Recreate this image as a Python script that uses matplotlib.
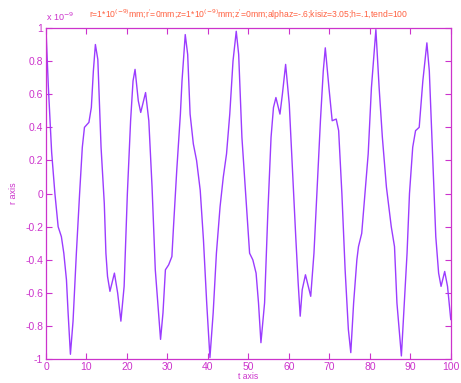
import matplotlib
matplotlib.use("Agg")
import matplotlib.pyplot as plt

plt.rcParams['font.family'] = ['Liberation Sans', 'DejaVu Sans']

t = [0.0, 0.57, 1.39, 2.2, 3.0, 3.8, 4.4, 5.05, 5.46, 6.03, 6.68, 7.5, 8.3, 8.97, 9.5, 10.6,
     11.2, 11.7, 12.2, 12.8, 13.6, 14.4, 14.8, 15.2, 15.8, 16.9, 17.7, 18.5, 19.3, 20.1,
     20.9, 21.5, 22.0, 22.8, 23.4, 24.6, 25.4, 26.2, 27.0, 28.3, 28.9, 29.5, 30.3, 31.1,
     31.5, 32.3, 33.2, 33.6, 34.4, 35.0, 35.6, 36.4, 37.2, 38.1, 38.9, 39.7, 40.5, 41.3,
     42.1, 43.0, 43.8, 44.6, 45.4, 46.2, 47.0, 47.6, 48.4, 49.5, 50.3, 51.1, 51.9, 52.5,
     53.1, 54.0, 54.8, 55.6, 56.2, 56.8, 57.8, 58.4, 59.2, 60.1, 60.9, 61.7, 62.3, 62.8,
     63.3, 64.1, 65.4, 66.2, 67.0, 67.8, 68.5, 69.0, 69.9, 70.7, 71.7, 72.3, 73.1, 73.9,
     74.7, 75.3, 76.0, 76.8, 77.2, 78.0, 78.8, 79.6, 80.4, 81.5, 82.3, 83.1, 84.1, 85.3,
     86.1, 86.7, 87.8, 88.3, 89.2, 89.8, 90.6, 91.3, 92.2, 93.1, 94.1, 94.7, 95.5, 96.3,
     97.0, 97.6, 98.5, 99.2, 100.0]
r = [0.99, 0.65, 0.25, 0.0, -0.2, -0.26, -0.36, -0.52, -0.72, -0.97, -0.77, -0.36, 0.0, 0.28, 0.40, 0.43,
     0.52, 0.74, 0.90, 0.81, 0.28, -0.06, -0.36, -0.50, -0.59, -0.48, -0.60, -0.77, -0.56, 0.0,
     0.44, 0.68, 0.75, 0.56, 0.49, 0.61, 0.44, 0.04, -0.46, -0.88, -0.72, -0.46, -0.43, -0.38,
     -0.20, 0.14, 0.48, 0.68, 0.96, 0.84, 0.48, 0.30, 0.20, 0.02, -0.28, -0.66, -0.99, -0.72,
     -0.36, -0.08, 0.10, 0.24, 0.48, 0.80, 0.98, 0.84, 0.34, -0.06, -0.36, -0.40, -0.48, -0.66,
     -0.90, -0.66, -0.12, 0.34, 0.52, 0.58, 0.48, 0.60, 0.78, 0.54, 0.14, -0.26, -0.54, -0.74,
     -0.58, -0.49, -0.62, -0.36, 0.04, 0.44, 0.74, 0.88, 0.64, 0.44, 0.45, 0.38, 0.0, -0.46,
     -0.82, -0.96, -0.66, -0.40, -0.32, -0.24, 0.0, 0.24, 0.64, 0.99, 0.64, 0.34, 0.04, -0.20,
     -0.32, -0.66, -0.98, -0.76, -0.36, 0.0, 0.28, 0.38, 0.40, 0.68, 0.91, 0.74, 0.24, -0.26,
     -0.48, -0.56, -0.47, -0.56, -0.76]

xticks = list(range(0, 101, 10))
yticks = [-1, -0.8, -0.6, -0.4, -0.2, 0, 0.2, 0.4, 0.6, 0.8, 1]
ytick_labels = ["-1", "-0.8", "-0.6", "-0.4", "-0.2", "0", "0.2", "0.4", "0.6", "0.8", "1"]

axc = "#cc33cc"
fig = plt.figure(figsize=(4.61, 3.83), dpi=100)
ax = fig.add_axes([0.0998, 0.062, 0.878, 0.865])
ax.plot(t, r, color="#9b3cff", lw=1.0)
ax.set_xlim(0, 100)
ax.set_ylim(-1, 1)
ax.set_xticks(xticks)
ax.set_xticklabels([str(v) for v in xticks])
ax.set_yticks(yticks)
ax.set_yticklabels(ytick_labels)
ax.tick_params(direction="in", top=True, right=True, colors=axc, labelsize=7.5, length=4, pad=2)
for s in ax.spines.values():
    s.set_color(axc)
    s.set_linewidth(0.9)
ax.set_title("r=1*10$^{(-9)}$mm;r$^{'}$=0mm;z=1*10$^{(-9)}$mm;z$^{'}$=0mm;alphaz=-.6;kisiz=3.05;h=.1,tend=100",
             color="#ff6040", fontsize=6.2, pad=7, x=0.5)
ax.text(0.0, 1.015, "x 10$^{-9}$", transform=ax.transAxes, color=axc, fontsize=6.5, ha="left", va="bottom")
ax.set_ylabel("r axis", color=axc, fontsize=6.5)
ax.yaxis.set_label_coords(-0.068, 0.5)
ax.set_xlabel("t axis", color=axc, fontsize=6.2, labelpad=0)
fig.savefig("out.png", dpi=100)
